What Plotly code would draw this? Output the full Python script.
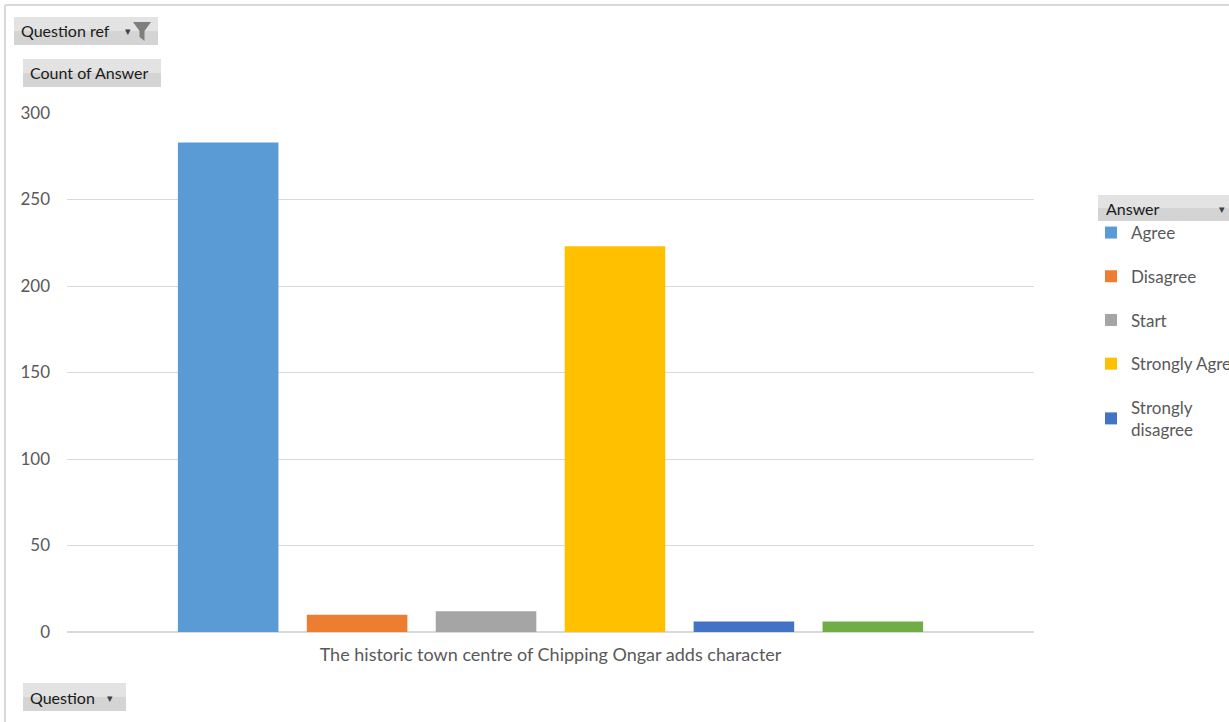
import plotly.graph_objects as go

category = ["The historic town centre of Chipping Ongar adds character"]
answers = ["Agree", "Disagree", "Start", "Strongly Agree", "Strongly<br>disagree", "Unsure"]
counts = [283, 10, 12, 223, 6, 6]
colors = ["#5b9bd5", "#ed7d31", "#a5a5a5", "#ffc000", "#4472c4", "#70ad47"]
in_legend = [True, True, True, True, True, False]
y_ticks = [0, 50, 100, 150, 200, 250, 300]

W, H = 1229, 722
L, R, T, B = 67, 1034, 113, 632
FONT = "Lato"


def px(x):
    return (x - L) / (R - L)


def py(y):
    return (B - y) / (B - T)


fig = go.Figure()
for i, (a, c, col, show) in enumerate(zip(answers, counts, colors, in_legend)):
    fig.add_trace(go.Bar(
        x=category, y=[c], name=a, marker=dict(color=col, line=dict(width=0)),
        showlegend=show, legendgroup=f"g{i}",
    ))

shapes = []
annotations = []

# outer border (left & top)
shapes.append(dict(type="line", xref="paper", yref="paper", x0=px(5), x1=px(5), y0=py(5), y1=py(722),
                   line=dict(color="#d9d9d9", width=2)))
shapes.append(dict(type="line", xref="paper", yref="paper", x0=px(5), x1=px(1229), y0=py(5), y1=py(5),
                   line=dict(color="#d9d9d9", width=2)))


def button(x0, y0, x1, y1, text, tx, arrow=None):
    # two-tone fill to suggest Excel's gradient
    shapes.append(dict(type="rect", xref="paper", yref="paper", x0=px(x0), x1=px(x1), y0=py(y0),
                       y1=py(y1), fillcolor="#d4d4d4", line=dict(width=0), layer="below"))
    shapes.append(dict(type="rect", xref="paper", yref="paper", x0=px(x0), x1=px(x1), y0=py(y0),
                       y1=py((y0 + y1) / 2), fillcolor="#e3e3e3", line=dict(width=0), layer="below"))
    annotations.append(dict(xref="paper", yref="paper", x=px(tx), y=py((y0 + y1) / 2), text=text,
                            showarrow=False, xanchor="left", yanchor="middle",
                            font=dict(family=FONT, size=16, color="#1a1a1a")))
    if arrow is not None:
        annotations.append(dict(xref="paper", yref="paper", x=px(arrow), y=py((y0 + y1) / 2 + 1),
                                text="▾", showarrow=False, xanchor="center", yanchor="middle",
                                font=dict(family="DejaVu Sans", size=11, color="#404040")))


button(14, 17, 158, 45, "Question ref", 19, arrow=128)
button(23, 59, 161, 87, "Count of Answer", 28)
button(1098, 195, 1240, 221, "Answer", 1104, arrow=1222)
button(23, 683, 126, 711, "Question", 28, arrow=110)

# filter funnel icon
fx = [133, 151, 144.5, 144.5, 139.5, 139.5]
fy = [22, 22, 31, 41, 37, 31]
path = "M " + " L ".join(f"{px(a)},{py(b)}" for a, b in zip(fx, fy)) + " Z"
shapes.append(dict(type="path", xref="paper", yref="paper", path=path,
                   fillcolor="#7f7f7f", line=dict(width=0)))

fig.update_layout(
    width=W, height=H,
    margin=dict(l=L, r=W - R, t=T, b=H - B, autoexpand=False),
    paper_bgcolor="white", plot_bgcolor="white",
    barmode="group", bargap=0.2, bargroupgap=0.22,
    font=dict(family=FONT, size=17, color="#595959"),
    xaxis=dict(showgrid=False, showline=False, ticks="", ticklabelstandoff=10,
               tickfont=dict(family=FONT, size=18, color="#595959")),
    yaxis=dict(range=[0, 300], tickvals=y_ticks, showgrid=True, gridcolor="#d9d9d9", gridwidth=1,
               zeroline=True, zerolinecolor="#d9d9d9", zerolinewidth=2, showline=False, ticks="",
               ticklabelstandoff=16, tickfont=dict(family=FONT, size=17, color="#595959")),
    legend=dict(x=px(1091), y=py(215), xanchor="left", yanchor="top", tracegroupgap=18.6,
                bgcolor="rgba(0,0,0,0)", font=dict(family=FONT, size=17, color="#595959"),
                itemclick=False),
    shapes=shapes, annotations=annotations,
)

fig.write_html("out.html", post_script="document.body.style.margin='0';",
               config={"displayModeBar": False})
